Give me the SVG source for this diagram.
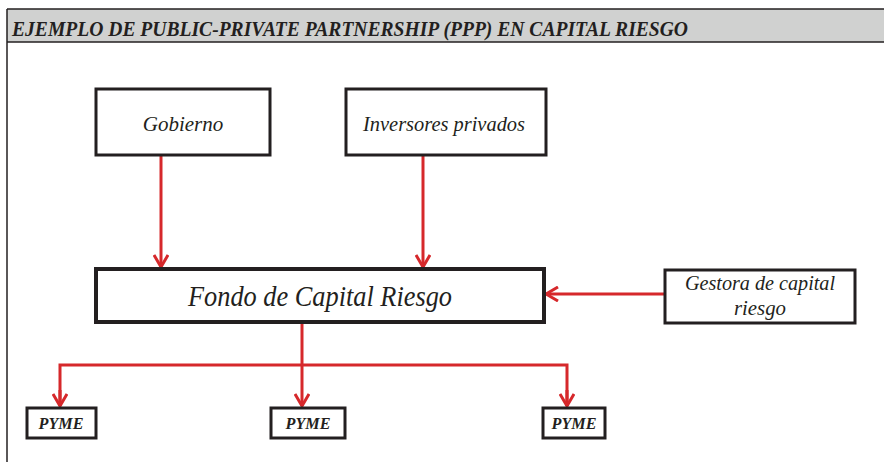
<svg xmlns="http://www.w3.org/2000/svg" width="884" height="462" viewBox="0 0 884 462" font-family="Liberation Serif, Times New Roman, DejaVu Serif, serif">
<style>
text{font-family:'Liberation Serif','Times New Roman',Times,'DejaVu Serif',serif;font-style:italic;fill:#231f20;text-anchor:middle}
.box{fill:#fff;stroke:#231f20;stroke-width:3}
.con{fill:none;stroke:#d6282b;stroke-width:3}
</style>
<defs>
<marker id="ah" viewBox="0 0 16 16" refX="14" refY="8" markerWidth="16" markerHeight="16" markerUnits="userSpaceOnUse" orient="auto">
<path d="M2,1 L14,8 L2,15" fill="none" stroke="#d6282b" stroke-width="3"/>
</marker>
</defs>
<rect x="0" y="0" width="884" height="462" fill="#fff"/>
<g id="frame">
<rect x="7" y="9" width="880" height="33" fill="#d0d1d0"/>
<line x1="7" y1="9" x2="884" y2="9" stroke="#231f20" stroke-width="1.5"/>
<line x1="7" y1="42" x2="884" y2="42" stroke="#231f20" stroke-width="1.5"/>
<line x1="7" y1="9" x2="7" y2="462" stroke="#231f20" stroke-width="1.5"/>
<text x="12" y="36" style="text-anchor:start;font-weight:bold" font-size="21" textLength="676" lengthAdjust="spacingAndGlyphs">EJEMPLO DE PUBLIC-PRIVATE PARTNERSHIP (PPP) EN CAPITAL RIESGO</text>
</g>
<g id="connectors">
<line class="con" x1="161" y1="156" x2="161" y2="267" marker-end="url(#ah)"/>
<line class="con" x1="423" y1="156" x2="423" y2="267" marker-end="url(#ah)"/>
<line class="con" x1="664" y1="294" x2="546" y2="294" marker-end="url(#ah)"/>
<line class="con" x1="302" y1="324" x2="302" y2="406" marker-end="url(#ah)"/>
<polyline class="con" points="60,406 60,365 567,365 567,406"/>
<line class="con" x1="60" y1="390" x2="60" y2="406" marker-end="url(#ah)"/>
<line class="con" x1="567" y1="390" x2="567" y2="406" marker-end="url(#ah)"/>
</g>
<g id="gobierno">
<rect class="box" x="96" y="89" width="174" height="66"/>
<text x="183" y="131" font-size="21">Gobierno</text>
</g>
<g id="inversores">
<rect class="box" x="346" y="89" width="200" height="66"/>
<text x="444" y="131" font-size="21" textLength="162" lengthAdjust="spacingAndGlyphs">Inversores privados</text>
</g>
<g id="fondo">
<rect class="box" x="96" y="269" width="448" height="53" style="stroke-width:4"/>
<text x="320" y="306" font-size="30" textLength="264" lengthAdjust="spacingAndGlyphs">Fondo de Capital Riesgo</text>
</g>
<g id="gestora">
<rect class="box" x="665" y="270" width="190" height="53"/>
<text x="760" y="290" font-size="21" textLength="150" lengthAdjust="spacingAndGlyphs">Gestora de capital</text>
<text x="760" y="315" font-size="21" textLength="52" lengthAdjust="spacingAndGlyphs">riesgo</text>
</g>
<g id="pyme1">
<rect class="box" x="27" y="408" width="69" height="30"/>
<text x="61" y="429" font-size="17" style="font-weight:bold" textLength="45" lengthAdjust="spacingAndGlyphs">PYME</text>
</g>
<g id="pyme2">
<rect class="box" x="271" y="408" width="74" height="30"/>
<text x="308" y="429" font-size="17" style="font-weight:bold" textLength="45" lengthAdjust="spacingAndGlyphs">PYME</text>
</g>
<g id="pyme3">
<rect class="box" x="543" y="408" width="62" height="30"/>
<text x="574" y="429" font-size="17" style="font-weight:bold" textLength="45" lengthAdjust="spacingAndGlyphs">PYME</text>
</g>
</svg>
